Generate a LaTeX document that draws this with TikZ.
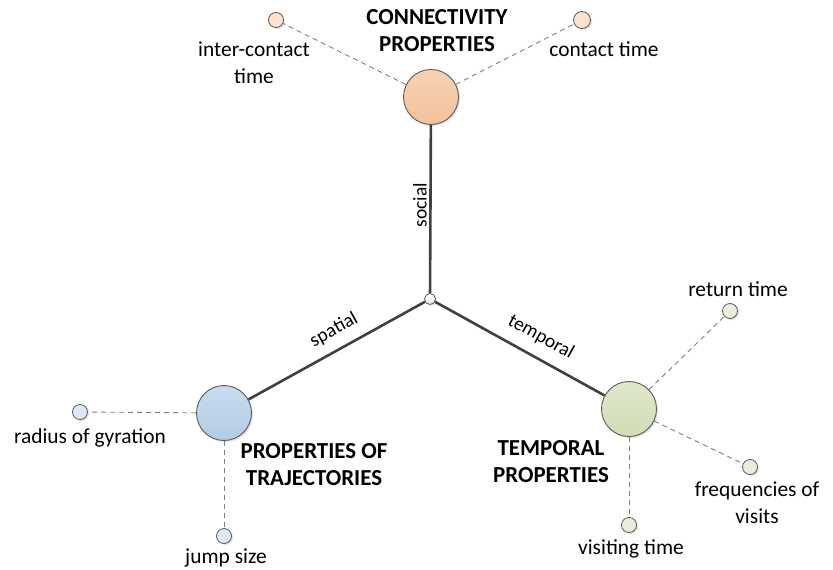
\documentclass[tikz,border=0pt]{standalone}
\usepackage{fontspec}
\setmainfont{Carlito}
\usetikzlibrary{shadows}

\definecolor{edgegray}{HTML}{5A5A5A}
\definecolor{axisgray}{HTML}{404040}
\definecolor{spokegray}{HTML}{7F7F7F}
\definecolor{peachtop}{HTML}{F8D2B3}
\definecolor{peachbot}{HTML}{F2C19B}
\definecolor{bluetop}{HTML}{C9DCEE}
\definecolor{bluebot}{HTML}{B3CCE4}
\definecolor{greentop}{HTML}{E0E7CC}
\definecolor{greenbot}{HTML}{D2DCB6}
\definecolor{peachlight}{HTML}{FBE1CF}
\definecolor{bluelight}{HTML}{DDE8F4}
\definecolor{greenlight}{HTML}{E9EEDC}

\begin{document}
\begin{tikzpicture}[x=1bp,y=-1bp,
  softshadow/.style={drop shadow={shadow xshift=1.6bp,shadow yshift=-1.6bp,opacity=0.22,fill=gray}},
  hubnode/.style={circle,draw=edgegray,line width=0.9bp,minimum size=55bp,inner sep=0pt,softshadow},
  leafnode/.style={circle,draw=edgegray,line width=0.8bp,minimum size=15bp,inner sep=0pt,softshadow},
  axisline/.style={draw=axisgray,line width=2.6bp},
  spokeline/.style={draw=spokegray,line width=0.9bp,dash pattern=on 5bp off 4bp},
  lbl/.style={font=\fontsize{21.5}{27}\selectfont,inner sep=0pt,align=center},
  head/.style={font=\fontsize{23}{27}\selectfont\bfseries,inner sep=0pt,align=center},
  axislbl/.style={font=\fontsize{19.5}{22}\selectfont,inner sep=0pt}
]
\useasboundingbox (0,0) rectangle (833,570);

% centre point and the three property hubs
\node[circle,draw=edgegray,line width=0.8bp,minimum size=11bp,inner sep=0pt,
      top color=white,bottom color=gray!15,softshadow] (hub) at (430,299) {};
\node[hubnode,top color=peachtop,bottom color=peachbot] (conn) at (431,97) {};
\node[hubnode,top color=bluetop,bottom color=bluebot] (traj) at (224,413) {};
\node[hubnode,top color=greentop,bottom color=greenbot] (temp) at (629,409) {};

% leaf nodes
\node[leafnode,fill=peachlight] (inter) at (276,20) {};
\node[leafnode,fill=peachlight,minimum size=17bp] (contact) at (582,20) {};
\node[leafnode,fill=bluelight] (radius) at (80,412) {};
\node[leafnode,fill=bluelight] (jump) at (224,536) {};
\node[leafnode,fill=greenlight] (ret) at (730,311) {};
\node[leafnode,fill=greenlight] (freq) at (750,467) {};
\node[leafnode,fill=greenlight] (visit) at (629,525) {};

% axes
\draw[axisline] (hub) -- (conn);
\draw[axisline] (hub) -- (traj);
\draw[axisline] (hub) -- (temp);

% dashed spokes
\draw[spokeline] (conn) -- (inter);
\draw[spokeline] (conn) -- (contact);
\draw[spokeline] (traj) -- (radius);
\draw[spokeline] (traj) -- (jump);
\draw[spokeline] (temp) -- (ret);
\draw[spokeline] (temp) -- (freq);
\draw[spokeline] (temp) -- (visit);

% axis labels
\node[axislbl,rotate=90] (lsocial) at (420,205) {social};
\node[axislbl,rotate=29] (lspatial) at (334,330) {spatial};
\node[axislbl,rotate=-29] (ltemporal) at (541,337) {temporal};

% headings
\node[head] (hconn) at (437,31) {CONNECTIVITY\\PROPERTIES};
\node[head] (htraj) at (314,465) {PROPERTIES OF\\TRAJECTORIES};
\node[head] (htemp) at (551,462) {TEMPORAL\\PROPERTIES};

% leaf labels
\node[lbl] (linter) at (254,63) {inter-contact\\time};
\node[lbl] (lcontact) at (604,49) {contact time};
\node[lbl] (lradius) at (90,438) {radius of gyration};
\node[lbl] (ljump) at (226,558) {jump size};
\node[lbl] (lret) at (738,289) {return time};
\node[lbl] (lfreq) at (757,503) {frequencies of\\visits};
\node[lbl] (lvisit) at (631,549) {visiting time};
\end{tikzpicture}
\end{document}
